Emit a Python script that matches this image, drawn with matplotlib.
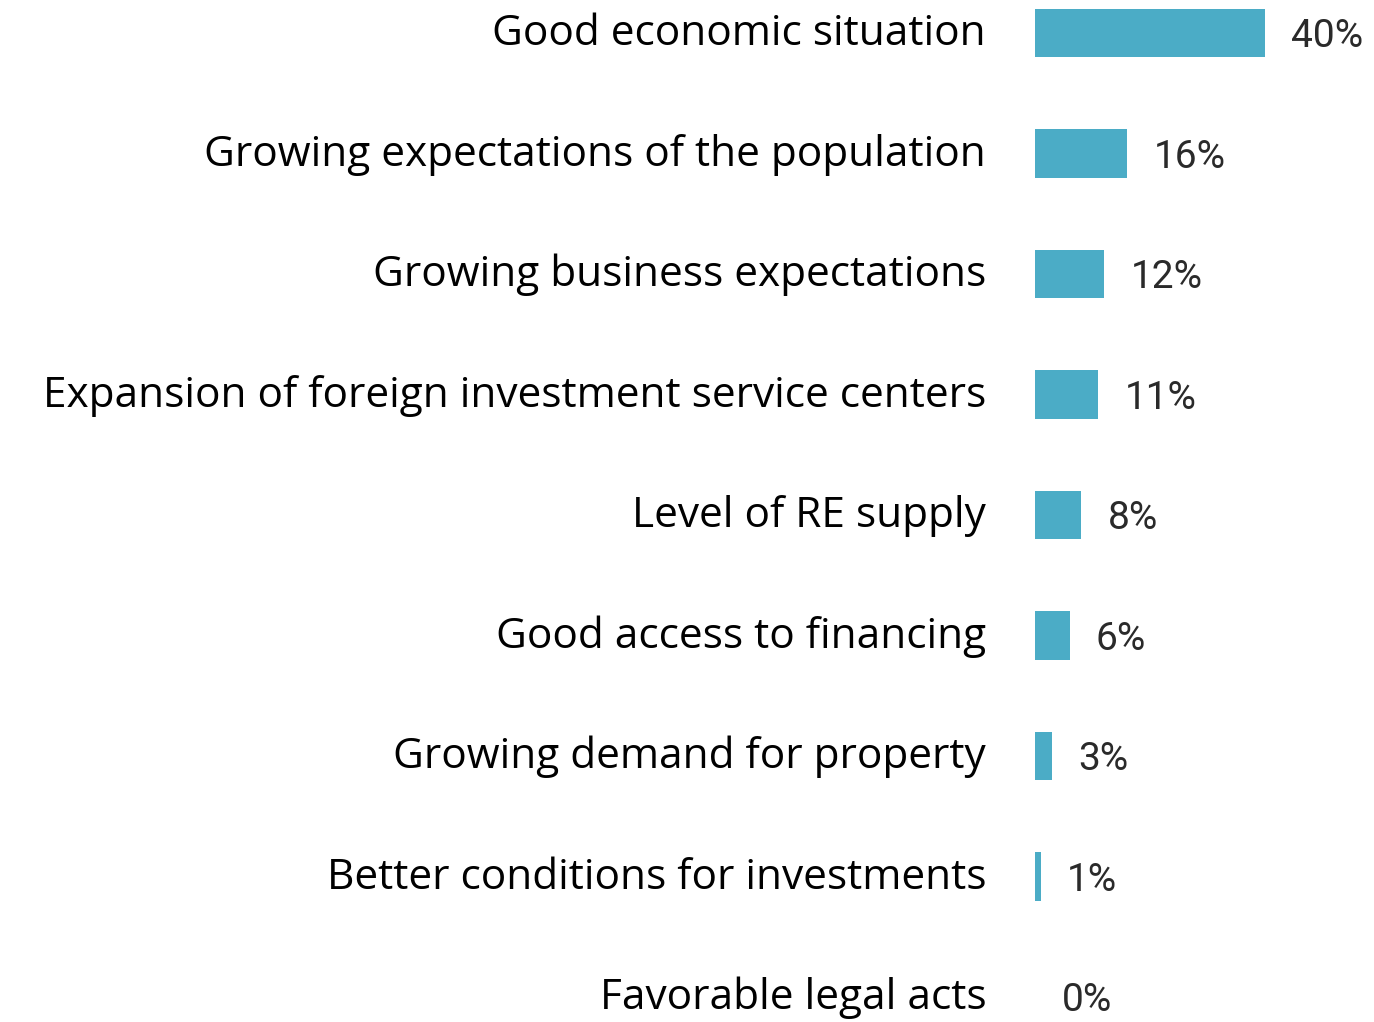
import matplotlib
matplotlib.use("Agg")
import matplotlib.pyplot as plt

# ----------------------------------
# Data.
categories = [
    "Good economic situation",
    "Growing expectations of the population",
    "Growing business expectations",
    "Expansion of foreign investment service centers",
    "Level of RE supply",
    "Good access to financing",
    "Growing demand for property",
    "Better conditions for investments",
    "Favorable legal acts",
]
values = [40, 16, 12, 11, 8, 6, 3, 1, 0]
value_labels = ["40%", "16%", "12%", "11%", "8%", "6%", "3%", "1%", "0%"]

bar_color = "#4BACC6"

fig = plt.figure(figsize=(13.74, 10.22), dpi=100)
ax = fig.add_axes([1035 / 1374, 0.0, 230 / 1374, 1.0])

ypos = list(range(len(categories)))
ax.barh(ypos, values, height=0.4, color=bar_color)

ax.set_xlim(0, 40)
ax.set_ylim((1022 - 33) / 120.5, -33 / 120.5)
ax.axis("off")

# Category labels on the left, value labels right of the bars.
for y, name, v, lab in zip(ypos, categories, values, value_labels):
    ax.text(-8.5, y + 0.01, name, ha="right", va="center", fontsize=30.5,
            family=["Open Sans", "DejaVu Sans"], color="black", clip_on=False)
    ax.text(v + 4.6, y + 0.03, lab, ha="left", va="center", fontsize=28,
            family=["Liberation Sans Narrow", "Roboto", "DejaVu Sans"],
            color="#2a2a2a", clip_on=False)

fig.savefig("out.png", dpi=100)
